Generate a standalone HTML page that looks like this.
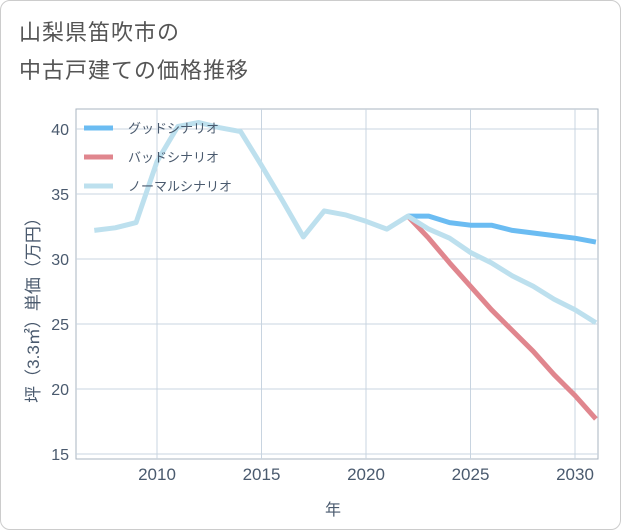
<!DOCTYPE html>
<html><head><meta charset="utf-8"><style>
body{margin:0;background:#fff;}
#card{position:absolute;left:0;top:0;width:619px;height:528px;border:1px solid #ccc;border-radius:10px;background:#fff;overflow:hidden;}
.t{position:absolute;left:18px;font:22px "Liberation Sans","Noto Sans CJK JP",sans-serif;color:#555;letter-spacing:1px;}
svg text{font-family:"Liberation Sans","Noto Sans CJK JP",sans-serif;}
</style></head><body>
<div id="card">
<div class="t" style="top:14px">山梨県笛吹市の</div>
<div class="t" style="top:52px">中古戸建ての価格推移</div>
<svg id="chart" width="621" height="530" style="position:absolute;left:0;top:0"></svg>
</div>
<script>
const years=[2007,2008,2009,2010,2011,2012,2013,2014,2015,2016,2017,2018,2019,2020,2021,2022,2023,2024,2025,2026,2027,2028,2029,2030,2031];
const normal=[32.2,32.4,32.8,37.5,40.2,40.5,40.1,39.8,37.2,34.5,31.7,33.7,33.4,32.9,32.3,33.3,32.3,31.6,30.5,29.7,28.7,27.9,26.9,26.1,25.1];
const futYears=[2022,2023,2024,2025,2026,2027,2028,2029,2030,2031];
const good=[33.3,33.3,32.8,32.6,32.6,32.2,32.0,31.8,31.6,31.3];
const bad=[33.3,31.6,29.7,27.9,26.1,24.5,22.9,21.1,19.5,17.7];
const xTicks=[2010,2015,2020,2025,2030];
const yTicks=[15,20,25,30,35,40];
const NS='http://www.w3.org/2000/svg';
const svg=document.getElementById('chart');
const L=75,R=597,T=108,B=458;
const x=v=>156+(v-2010)*20.9;
const y=v=>128+(40-v)*13;
function mk(tag,attrs,parent){const e=document.createElementNS(NS,tag);for(const k in attrs)e.setAttribute(k,attrs[k]);(parent||svg).appendChild(e);return e;}
mk('rect',{x:L,y:T,width:R-L,height:B-T,fill:'#fff',stroke:'#aab4c0','stroke-width':1});
xTicks.forEach(v=>{
 const g=mk('line',{x1:x(v),x2:x(v),y1:T,y2:B,stroke:'#c8d4e0'});
 
 const t=mk('text',{x:x(v),y:479,'text-anchor':'middle','font-size':17,fill:'#4a5a6e'});t.textContent=v;
 
});
yTicks.forEach(v=>{
 const g=mk('line',{x1:L,x2:R,y1:y(v),y2:y(v),stroke:'#c8d4e0'});
 
 const t=mk('text',{x:68,y:y(v)+6,'text-anchor':'end','font-size':16,fill:'#4a5a6e'});t.textContent=v;
 
});
function line(xs,ys,color,name){
 const p=mk('polyline',{points:xs.map((v,i)=>x(v)+','+y(ys[i])).join(' '),fill:'none',stroke:color,'stroke-width':5,'stroke-linejoin':'round'});
 
}
line(futYears,good,'#6bbcf2','good-scenario-line');
line(futYears,bad,'#e0868e','bad-scenario-line');
line(years,normal,'#bde0ee','normal-scenario-line');
const leg=[['グッドシナリオ','#6bbcf2'],['バッドシナリオ','#e0868e'],['ノーマルシナリオ','#bde0ee']];
leg.forEach((d,i)=>{
 const yy=127+i*29;
 const l=mk('line',{x1:83,x2:112,y1:yy,y2:yy,stroke:d[1],'stroke-width':5});
 
 const t=mk('text',{x:127,y:yy+5,'font-size':13,fill:'#4a5a6e'});t.textContent=d[0];
 
});
const yt=mk('text',{x:0,y:0,'font-size':17,fill:'#4a5a6e','text-anchor':'middle',transform:'translate(38,305) rotate(-90)'});
yt.textContent='坪（3.3㎡）単価（万円）';

const xt=mk('text',{x:332,y:514,'font-size':16,fill:'#4a5a6e','text-anchor':'middle'});
xt.textContent='年';

</script>
</body></html>
